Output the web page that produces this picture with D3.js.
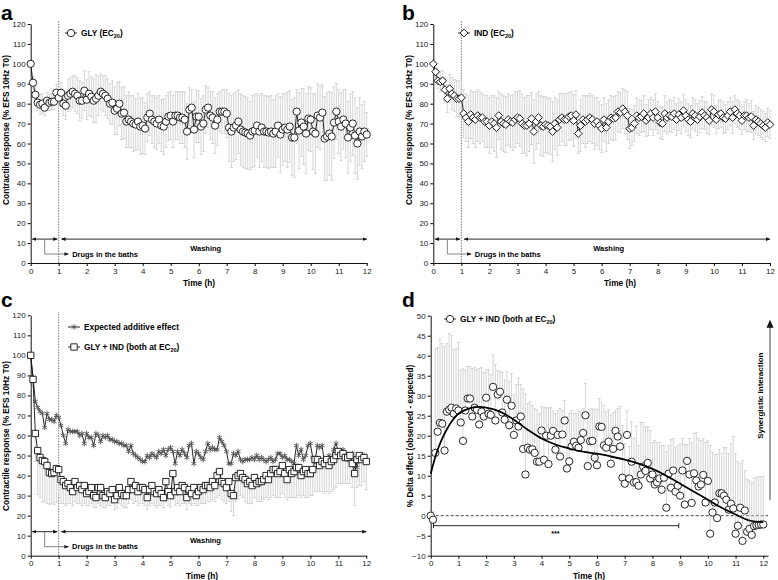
<!DOCTYPE html>
<html>
<head>
<meta charset="utf-8">
<script src="https://cdn.jsdelivr.net/npm/d3@7"></script>
<style>
  body { margin: 0; background: #fff; }
  text { font-family: "Liberation Sans", Arial, sans-serif; }
</style>
</head>
<body>
<div class="chart_container"></div>
<script>
// sampling grid: one reading every 5 min over 12 h
var hours = d3.range(145).map(function(i) { return i / 12; });

// panel a - GLY (EC20)
var glyMean = [
  100, 90.5, 84.5, 80.5, 79.5, 80, 78, 81.5, 80.5, 81, 81, 85.5,
  83, 85.5, 80, 79, 84, 85, 86, 85, 84, 81.5, 81.5, 86.5,
  82, 85, 83.5, 81.5, 82.5, 84, 86, 85, 84, 82.5, 80, 80.5,
  76.5, 77.5, 80, 75, 75.5, 71, 72, 71, 70, 69.5, 71, 68.5,
  69, 67.5, 73, 75, 72, 71, 70, 72, 69, 68.5, 71, 73.5,
  74, 71, 74, 74, 73, 73, 72, 66, 77, 78, 67, 73.5,
  73.5, 68.5, 70, 77, 78, 74, 73, 69, 72, 76, 76, 76,
  75, 68, 66, 68, 69, 71, 67, 66, 65.5, 65, 64, 66,
  66.5, 69, 66, 68, 66, 66, 65.5, 66, 65, 66, 69, 64.5,
  67, 68, 67, 68.5, 63, 63, 76, 66.5, 70.5, 68.5, 65, 72.5,
  72, 66, 65, 74, 73, 75.5, 62.5, 63.5, 65, 63.5, 70.5, 76,
  71, 68.5, 72, 70, 63, 68, 70, 64, 60, 66, 63.5, 66,
  64.5
];
var glyErr = [
  0, 3, 4, 4, 5, 5, 4, 4, 4, 4, 4, 4,
  4, 5, 6, 7, 8, 8, 8, 9, 9, 10, 9, 10,
  10, 11, 10, 11, 12, 10, 9, 9, 10, 10, 10, 11,
  12, 13, 11, 13, 13, 13, 14, 13, 14, 13, 14, 14,
  14, 13, 12, 11, 12, 13, 13, 12, 13, 14, 13, 12,
  12, 13, 12, 12, 13, 13, 14, 14, 11, 9, 14, 13,
  13, 14, 14, 12, 10, 12, 13, 14, 13, 10, 11, 11,
  12, 17, 18, 17, 17, 16, 18, 18, 18, 18, 17, 18,
  18, 16, 18, 17, 18, 18, 18, 18, 17, 18, 16, 19,
  18, 17, 19, 18, 19, 20, 11, 19, 17, 19, 20, 16,
  16, 19, 20, 16, 16, 14, 21, 22, 21, 22, 18, 14,
  16, 17, 15, 17, 18, 17, 16, 19, 18, 17, 16, 15,
  11
];

// panel b - IND (EC20)
var indMean = [
  100, 96, 91.5, 91, 91.5, 87, 82.5, 87.5, 85, 84, 82.5, 82.5,
  83, 75, 73, 71, 74.5, 73, 72, 74, 73, 73, 71, 71,
  69, 71, 70, 68, 74, 71, 70, 69.5, 72, 71, 70.5, 72,
  73, 72.5, 70, 69, 69, 70, 72.5, 66, 71, 73, 69, 68.5,
  69.5, 69, 68.5, 66, 70, 68, 72, 73, 72, 72, 73.5, 74,
  71.5, 74.5, 65, 69, 72, 71, 72, 73, 72, 70, 71, 69,
  67.5, 72, 68, 71, 73, 72.5, 73, 76, 75.5, 77.5, 76, 74,
  67.5, 68, 70, 74, 73, 73.5, 75, 71.5, 73, 75, 73, 76,
  73, 70.5, 70, 75, 73, 74, 73.5, 75, 72, 74.5, 73, 76.5,
  74, 72, 71, 75, 74, 72, 73.5, 75.5, 74, 73, 71.5, 77,
  76, 72, 74.5, 75, 73, 72.5, 74, 76, 73, 77, 75, 74,
  71.5, 74, 74, 73, 73.5, 69, 72, 71, 70, 69, 68, 70.5,
  69.5
];
var indErr = [
  0, 3, 4, 5, 5, 6, 7, 7, 8, 8, 9, 9,
  10, 12, 12, 13, 12, 13, 14, 13, 13, 12, 13, 13,
  14, 13, 14, 15, 12, 14, 14, 14, 13, 13, 14, 14,
  13, 14, 15, 14, 15, 14, 13, 16, 14, 13, 15, 15,
  14, 14, 14, 15, 13, 14, 13, 12, 13, 13, 12, 12,
  13, 12, 10, 13, 12, 13, 12, 12, 12, 13, 12, 12,
  12, 11, 12, 11, 11, 11, 11, 10, 10, 10, 11, 12,
  10, 9, 9, 9, 9, 8, 9, 8, 9, 8, 9, 9,
  8, 8, 8, 9, 8, 8, 8, 8, 8, 8, 8, 8,
  8, 8, 8, 8, 8, 8, 8, 8, 7, 8, 7, 8,
  8, 7, 7, 7, 8, 7, 7, 7, 8, 7, 7, 7,
  7, 7, 8, 7, 8, 7, 7, 7, 7, 7, 7, 7,
  7
];

// panel c - expected additive effect and GLY + IND
var expMean = [
  100, 89, 77, 74, 72, 71, 64, 71, 68, 68, 67, 70,
  69, 65, 60, 56, 63, 62, 62, 62, 62, 60, 61, 56,
  61, 59, 59, 55, 61, 60, 57, 60, 59, 60, 58, 58,
  57, 57, 56, 56, 55, 55, 52, 55, 51, 50, 49, 48,
  47, 47, 50, 49, 51, 50, 49, 52, 51, 53, 50, 53,
  54, 52, 46, 52, 50, 53, 51, 49, 55, 56, 46, 52,
  51, 49, 48, 52, 56, 53, 54, 53, 53, 59, 57, 55,
  52, 46, 46, 51, 50, 52, 48, 47, 48, 48, 48, 49,
  48, 50, 48, 49, 48, 47, 48, 49, 47, 48, 51, 51,
  49, 50, 48, 48, 47, 46, 55, 50, 53, 48, 50, 55,
  56, 49, 47, 55, 54, 55, 47, 48, 50, 48, 53, 56,
  52, 50, 53, 51, 48, 50, 51, 45, 44, 49, 48, 50,
  47
];
var comboMean = [
  100, 88, 61, 52.5, 49, 47.5, 47, 45, 41.5, 41, 41.5, 43.5,
  43, 38, 37, 35, 36, 34, 32, 37, 34, 35, 33, 35,
  31, 32, 34, 30, 29, 34, 34, 30, 29, 32, 31, 33,
  28, 30, 34, 31, 30, 30, 33, 37, 33, 35, 32, 34,
  34, 33, 29, 33, 35, 32, 31, 33, 31, 29, 37, 32,
  30, 41, 32, 34, 32, 35, 34, 29, 33, 31, 34, 30,
  32, 34, 33, 35, 35, 34, 37, 35, 40, 42, 37, 36,
  34, 37, 31, 30, 39, 40, 41, 39, 38, 36, 37, 35,
  39, 36, 37, 37, 38, 40, 38, 41, 43, 43, 41, 42,
  45, 41, 38, 43, 41, 42, 44, 44, 40, 42, 43, 41,
  41, 43, 48, 48, 45, 47, 46, 48, 45, 47, 48, 50,
  52, 50, 51, 49, 49, 50, 46, 41, 48, 50, 48, 49,
  47
];
var comboErr = [
  0, 4, 14, 22, 20, 21, 20, 19, 16, 15, 16, 17,
  14, 12, 11, 10, 10, 8, 7, 10, 8, 9, 8, 9,
  6, 7, 8, 6, 5, 8, 9, 6, 5, 7, 6, 7,
  5, 6, 8, 6, 6, 6, 7, 9, 7, 8, 7, 8,
  8, 8, 6, 8, 9, 7, 7, 8, 6, 5, 10, 7,
  6, 13, 7, 8, 7, 9, 8, 6, 7, 6, 8, 5,
  7, 8, 7, 9, 8, 7, 9, 8, 11, 12, 9, 9,
  8, 10, 9, 10, 12, 12, 11, 10, 11, 10, 11, 9,
  10, 9, 10, 10, 10, 11, 10, 12, 13, 14, 12, 13,
  14, 12, 10, 14, 12, 13, 15, 14, 11, 12, 14, 12,
  11, 13, 16, 16, 13, 15, 15, 16, 14, 15, 15, 16,
  16, 14, 15, 13, 13, 14, 12, 16, 14, 15, 13, 12,
  14
];

// panel d - delta effect (observed - expected)
var deltaMean = [
  0, -1, 15.7, 21, 23.2, 23, 16.3, 26, 26.5, 27, 25.5, 26.8,
  26.3, 23.3, 18.7, 26.3, 29.3, 29.3, 24.8, 27, 26.5, 22.8, 26, 24.8,
  29.5, 25.5, 25.2, 32.2, 23.8, 30.3, 31, 25.8, 24, 29, 22.6, 27.5,
  20.2, 23.8, 22.3, 24.8, 16.7, 10.3, 17, 16.5, 16.6, 15.7, 13.5, 13.5,
  21.3, 14, 20, 12.9, 20, 21.2, 16.5, 20.2, 14.8, 20.3, 23.8, 11.8,
  13.6, 17.3, 18.5, 17.5, 17, 18.9, 20.7, 25.1, 12.4, 18.6, 18.7, 14.5,
  12.6, 22.3, 22.2, 17.6, 17, 18.5, 13, 16.7, 21.2, 19.8, 17.3, 9.5,
  8, 20.2, 9.3, 13.5, 8.3, 8.4, 7.5, 10.3, 12.3, 11.2, 13.2, 9.3,
  10.3, 7.8, 8.3, 9.3, 6.5, 9.5, 2, 10.5, 7, 11.3, 6, 7.5,
  5, 11.3, 2.8, 13.7, 10.3, 3.2, 10.6, 8.8, 7.3, 7.8, 10.2, 3.3,
  8.7, -4.5, 0.8, 3.3, -0.6, 5.6, 5.6, 5, 4, 1.5, 3, 1.8,
  -4.5, -2.5, 2, -6.3, 1.3, -4, -3.3, -4.8, -2.6, -2.4, -2.3, -2.2,
  -2.2
];
var deltaErr = [
  0, 2, 26, 21, 21, 20, 26, 17, 19, 18, 16, 15,
  17, 13, 18, 10, 8, 8, 12, 10, 10, 14, 11, 11,
  7, 11, 10, 8, 14, 6, 5, 10, 10, 7, 11, 8,
  10, 9, 12, 8, 15, 20, 11, 12, 11, 11, 13, 12,
  6, 13, 7, 14, 7, 5, 9, 6, 12, 6, 5, 13,
  12, 9, 7, 8, 9, 7, 6, 8, 13, 8, 8, 12,
  14, 7, 6, 10, 9, 8, 12, 9, 5, 7, 10, 13,
  10, 6, 8, 10, 11, 14, 10, 13, 11, 11, 9, 12,
  8, 11, 10, 9, 11, 8, 14, 7, 12, 8, 11, 10,
  13, 8, 15, 4, 9, 15, 10, 12, 12, 11, 9, 15,
  10, 22, 15, 12, 16, 11, 10, 12, 13, 14, 15, 18,
  20, 16, 11, 20, 10, 13, 12, 13, 12, 12, 12, 12,
  12
];

// smooth fit drawn over panel d
var fitHours = [0, 0.25, 0.5, 0.75, 1, 1.5, 1.75, 2, 2.5, 3, 3.5, 4, 4.5, 5, 5.5, 6, 6.5, 7, 7.5, 8, 8.5, 9, 9.5, 10, 10.5, 11, 11.5, 12];
var fitValues = [10.5, 16.5, 20.5, 23.5, 25.5, 27, 27.2, 27, 26, 24, 21.5, 19.3, 17.8, 16.8, 16, 15.5, 14.8, 14, 13, 11.7, 10, 8, 6, 4, 2, 0.3, -1.2, -1.6];

var xTicks = d3.range(0, 13);
var respTicks = d3.range(0, 121, 10);
var deltaTicks = d3.range(-10, 51, 5);

var svg = d3.select(".chart_container").append("svg")
    .attr("width", 778)
    .attr("height", 580);

var defs = svg.append("defs");
defs.append("marker")
    .attr("id", "head")
    .attr("viewBox", "0 0 10 10")
    .attr("refX", 9).attr("refY", 5)
    .attr("markerWidth", 5).attr("markerHeight", 5)
    .attr("orient", "auto-start-reverse")
  .append("path")
    .attr("d", "M0,1L10,5L0,9z")
    .attr("fill", "#111");

var ERR = "#d0d0d0";

function symbolPath(kind, size) {
    if (kind == "diamond" || kind == "square") return d3.symbol().type(d3.symbolSquare).size(size)();
    if (kind == "star") return d3.symbol().type(d3.symbolAsterisk).size(size)();
    return d3.symbol().type(d3.symbolCircle).size(size)();
}

function drawMarker(g, kind, x, y) {
    var p = g.append("path").attr("transform", "translate(" + x + "," + y + ")" + (kind == "diamond" ? " rotate(45)" : ""));
    if (kind == "star") {
        p.attr("d", symbolPath("star", 22)).attr("fill", "none").attr("stroke", "#555").attr("stroke-width", 0.9);
    } else {
        var size = kind == "circle" ? 42 : (kind == "diamond" ? 30 : 40);
        p.attr("d", symbolPath(kind, size)).attr("fill", "#fff").attr("stroke", "#111").attr("stroke-width", 0.9);
    }
    return p;
}

function makePanel(cfg) {
    var g = svg.append("g");
    var x = d3.scaleLinear().domain(cfg.xDomain).range(cfg.xRange);
    var y = d3.scaleLinear().domain(cfg.yDomain).range(cfg.yRange);

    g.append("g")
        .attr("transform", "translate(0," + cfg.yRange[0] + ")")
        .call(d3.axisBottom(x).tickValues(xTicks).tickSize(3).tickSizeOuter(0).tickPadding(2))
        .call(function(a) {
            a.selectAll("text").attr("font-size", 8).attr("fill", "#222").style("font-family", "Liberation Sans, Arial");
            a.select(".domain").attr("stroke", "#111");
        });
    g.append("g")
        .attr("transform", "translate(" + cfg.xRange[0] + ",0)")
        .call(d3.axisLeft(y).tickValues(cfg.yTicks).tickSize(3).tickSizeOuter(0).tickPadding(2))
        .call(function(a) {
            a.selectAll("text").attr("font-size", 8).attr("fill", "#222").style("font-family", "Liberation Sans, Arial");
            a.select(".domain").attr("stroke", "#111");
        });

    g.append("text")
        .attr("x", cfg.letter[0]).attr("y", cfg.letter[1])
        .attr("font-size", 21).attr("font-weight", "bold")
        .text(cfg.id);

    g.append("text")
        .attr("transform", "translate(" + cfg.yLabel[0] + "," + cfg.yLabel[1] + ") rotate(-90)")
        .attr("text-anchor", "middle")
        .attr("font-size", 8.3).attr("font-weight", "bold")
        .text(cfg.yTitle);

    g.append("text")
        .attr("x", cfg.xLabel[0]).attr("y", cfg.xLabel[1])
        .attr("text-anchor", "middle")
        .attr("font-size", 8.3).attr("font-weight", "bold")
        .text("Time (h)");

    return { g: g, x: x, y: y };
}

function errorBars(p, mean, err, dir) {
    var eg = p.g.append("g").attr("stroke", ERR).attr("stroke-width", 0.9).attr("fill", "none");
    mean.forEach(function(m, i) {
        if (!err[i]) return;
        var hi = dir == "down" ? m : m + err[i];
        var lo = dir == "up" ? m : m - err[i];
        var xx = p.x(hours[i]);
        eg.append("line").attr("x1", xx).attr("x2", xx).attr("y1", p.y(hi)).attr("y2", p.y(lo));
        if (dir != "down") eg.append("line").attr("x1", xx - 1.5).attr("x2", xx + 1.5).attr("y1", p.y(hi)).attr("y2", p.y(hi));
        if (dir != "up") eg.append("line").attr("x1", xx - 1.5).attr("x2", xx + 1.5).attr("y1", p.y(lo)).attr("y2", p.y(lo));
    });
}

function series(p, mean, kind, withLine) {
    if (withLine) {
        p.g.append("path")
            .datum(mean)
            .attr("fill", "none")
            .attr("stroke", "#111")
            .attr("stroke-width", 0.9)
            .attr("d", d3.line().x(function(d, i) { return p.x(hours[i]); }).y(function(d) { return p.y(d); }));
    }
    var mg = p.g.append("g");
    mean.forEach(function(m, i) { drawMarker(mg, kind, p.x(hours[i]), p.y(m)); });
}

function legendLabel(g, x, y, before, sub, after) {
    var t = g.append("text").attr("x", x).attr("y", y).attr("font-size", 8.3).attr("font-weight", "bold");
    t.append("tspan").text(before);
    if (sub) {
        t.append("tspan").attr("font-size", 5.5).attr("dy", 2).text(sub);
        t.append("tspan").attr("dy", -2).text(after);
    }
}

function legendItem(p, kind, x, y, before, sub, after) {
    p.g.append("line").attr("x1", x - 6).attr("x2", x + 6).attr("y1", y).attr("y2", y).attr("stroke", "#111").attr("stroke-width", 0.9);
    drawMarker(p.g, kind, x, y);
    legendLabel(p.g, x + 10, y + 3, before, sub, after);
}

function protocol(p, top) {
    var y12 = p.y(12);
    p.g.append("line")
        .attr("x1", p.x(1)).attr("x2", p.x(1))
        .attr("y1", p.y(0)).attr("y2", top)
        .attr("stroke", "#777").attr("stroke-width", 1).attr("stroke-dasharray", "1.5,1.2");
    p.g.append("line")
        .attr("x1", p.x(0.06)).attr("x2", p.x(0.95)).attr("y1", y12).attr("y2", y12)
        .attr("stroke", "#111").attr("stroke-width", 0.9)
        .attr("marker-start", "url(#head)").attr("marker-end", "url(#head)");
    p.g.append("line")
        .attr("x1", p.x(1.1)).attr("x2", p.x(12)).attr("y1", y12).attr("y2", y12)
        .attr("stroke", "#111").attr("stroke-width", 0.9)
        .attr("marker-start", "url(#head)").attr("marker-end", "url(#head)");
    p.g.append("path")
        .attr("d", "M" + p.x(0.5) + "," + y12 + "V" + p.y(4.5) + "H" + p.x(1.35))
        .attr("fill", "none").attr("stroke", "#777").attr("stroke-width", 0.9)
        .attr("marker-end", "url(#head)");
    p.g.append("text")
        .attr("x", p.x(1.48)).attr("y", p.y(3.2))
        .attr("font-size", 7.5).attr("font-weight", "bold")
        .text("Drugs in the baths");
    p.g.append("text")
        .attr("x", p.x(6.25)).attr("y", p.y(6.2))
        .attr("text-anchor", "middle")
        .attr("font-size", 7.5).attr("font-weight", "bold")
        .text("Washing");
}

var respTitle = "Contractile response  (% EFS 10Hz T0)";

// a
var pa = makePanel({
    id: "a", xDomain: [0, 12], xRange: [30.7, 366.7], yDomain: [0, 120], yRange: [263, 24],
    yTicks: respTicks, letter: [1, 19.5], yLabel: [9, 130], xLabel: [199, 286], yTitle: respTitle
});
protocol(pa, 20);
errorBars(pa, glyMean, glyErr, "both");
series(pa, glyMean, "circle", true);
legendItem(pa, "circle", 71, 33, "GLY (EC", "20", ")");

// b
var pb = makePanel({
    id: "b", xDomain: [0, 12], xRange: [433.3, 770], yDomain: [0, 120], yRange: [263, 24],
    yTicks: respTicks, letter: [402, 19.5], yLabel: [412, 130], xLabel: [620, 286], yTitle: respTitle
});
protocol(pb, 20);
errorBars(pb, indMean, indErr, "both");
series(pb, indMean, "diamond", true);
legendItem(pb, "diamond", 464, 33, "IND (EC", "20", ")");

// c
var pc = makePanel({
    id: "c", xDomain: [0, 12], xRange: [30.7, 366.3], yDomain: [0, 120], yRange: [555.7, 315.3],
    yTicks: respTicks, letter: [1, 307], yLabel: [9, 436], xLabel: [202, 579], yTitle: respTitle
});
protocol(pc, 312);
errorBars(pc, comboMean, comboErr, "down");
series(pc, expMean, "star", true);
series(pc, comboMean, "square", true);
legendItem(pc, "star", 74, 327, "Expected additive effect");
legendItem(pc, "square", 74, 347, "GLY + IND (both at EC", "20", ")");

// d
var pd = makePanel({
    id: "d", xDomain: [0, 12.17], xRange: [430.7, 768], yDomain: [-10, 50], yRange: [555.7, 315.7],
    yTicks: deltaTicks, letter: [402, 307], yLabel: [413, 436], xLabel: [589, 579],
    yTitle: "% Delta effect (observed - expected)"
});
pd.g.append("line")
    .attr("x1", pd.x(0)).attr("x2", pd.x(12.17)).attr("y1", pd.y(0)).attr("y2", pd.y(0))
    .attr("stroke", "#444").attr("stroke-width", 1).attr("stroke-dasharray", "3,2");
errorBars(pd, deltaMean, deltaErr, "up");
series(pd, deltaMean, "circle", false);
pd.g.append("path")
    .datum(fitValues)
    .attr("fill", "none").attr("stroke", "#000").attr("stroke-width", 1.8)
    .attr("d", d3.line().curve(d3.curveCatmullRom)
        .x(function(d, i) { return pd.x(fitHours[i]); })
        .y(function(d) { return pd.y(d); }));
legendItem(pd, "circle", 450, 319, "GLY + IND (both at EC", "20", ")");

// significance bracket
var by = pd.y(-2.5);
pd.g.append("path")
    .attr("d", "M" + pd.x(0.1) + "," + (by - 2.5) + "V" + (by + 2.5) + "M" + pd.x(0.1) + "," + by +
        "H" + pd.x(8.95) + "M" + pd.x(8.95) + "," + (by - 2.5) + "V" + (by + 2.5))
    .attr("fill", "none").attr("stroke", "#111").attr("stroke-width", 0.9);
pd.g.append("text")
    .attr("x", pd.x(4.5)).attr("y", pd.y(-5))
    .attr("text-anchor", "middle").attr("font-size", 7).attr("font-weight", "bold")
    .text("***");

// synergy arrow
pd.g.append("line")
    .attr("x1", 770).attr("x2", 770).attr("y1", pd.y(4)).attr("y2", pd.y(47.5))
    .attr("stroke", "#888").attr("stroke-width", 1.6);
pd.g.append("path")
    .attr("d", "M766.5," + pd.y(47) + "L770," + pd.y(49) + "L773.5," + pd.y(47) + "z")
    .attr("fill", "#111");
pd.g.append("text")
    .attr("transform", "translate(763," + pd.y(30) + ") rotate(-90)")
    .attr("text-anchor", "middle").attr("font-size", 8).attr("font-weight", "bold")
    .text("Synergistic interaction");
</script>
</body>
</html>
